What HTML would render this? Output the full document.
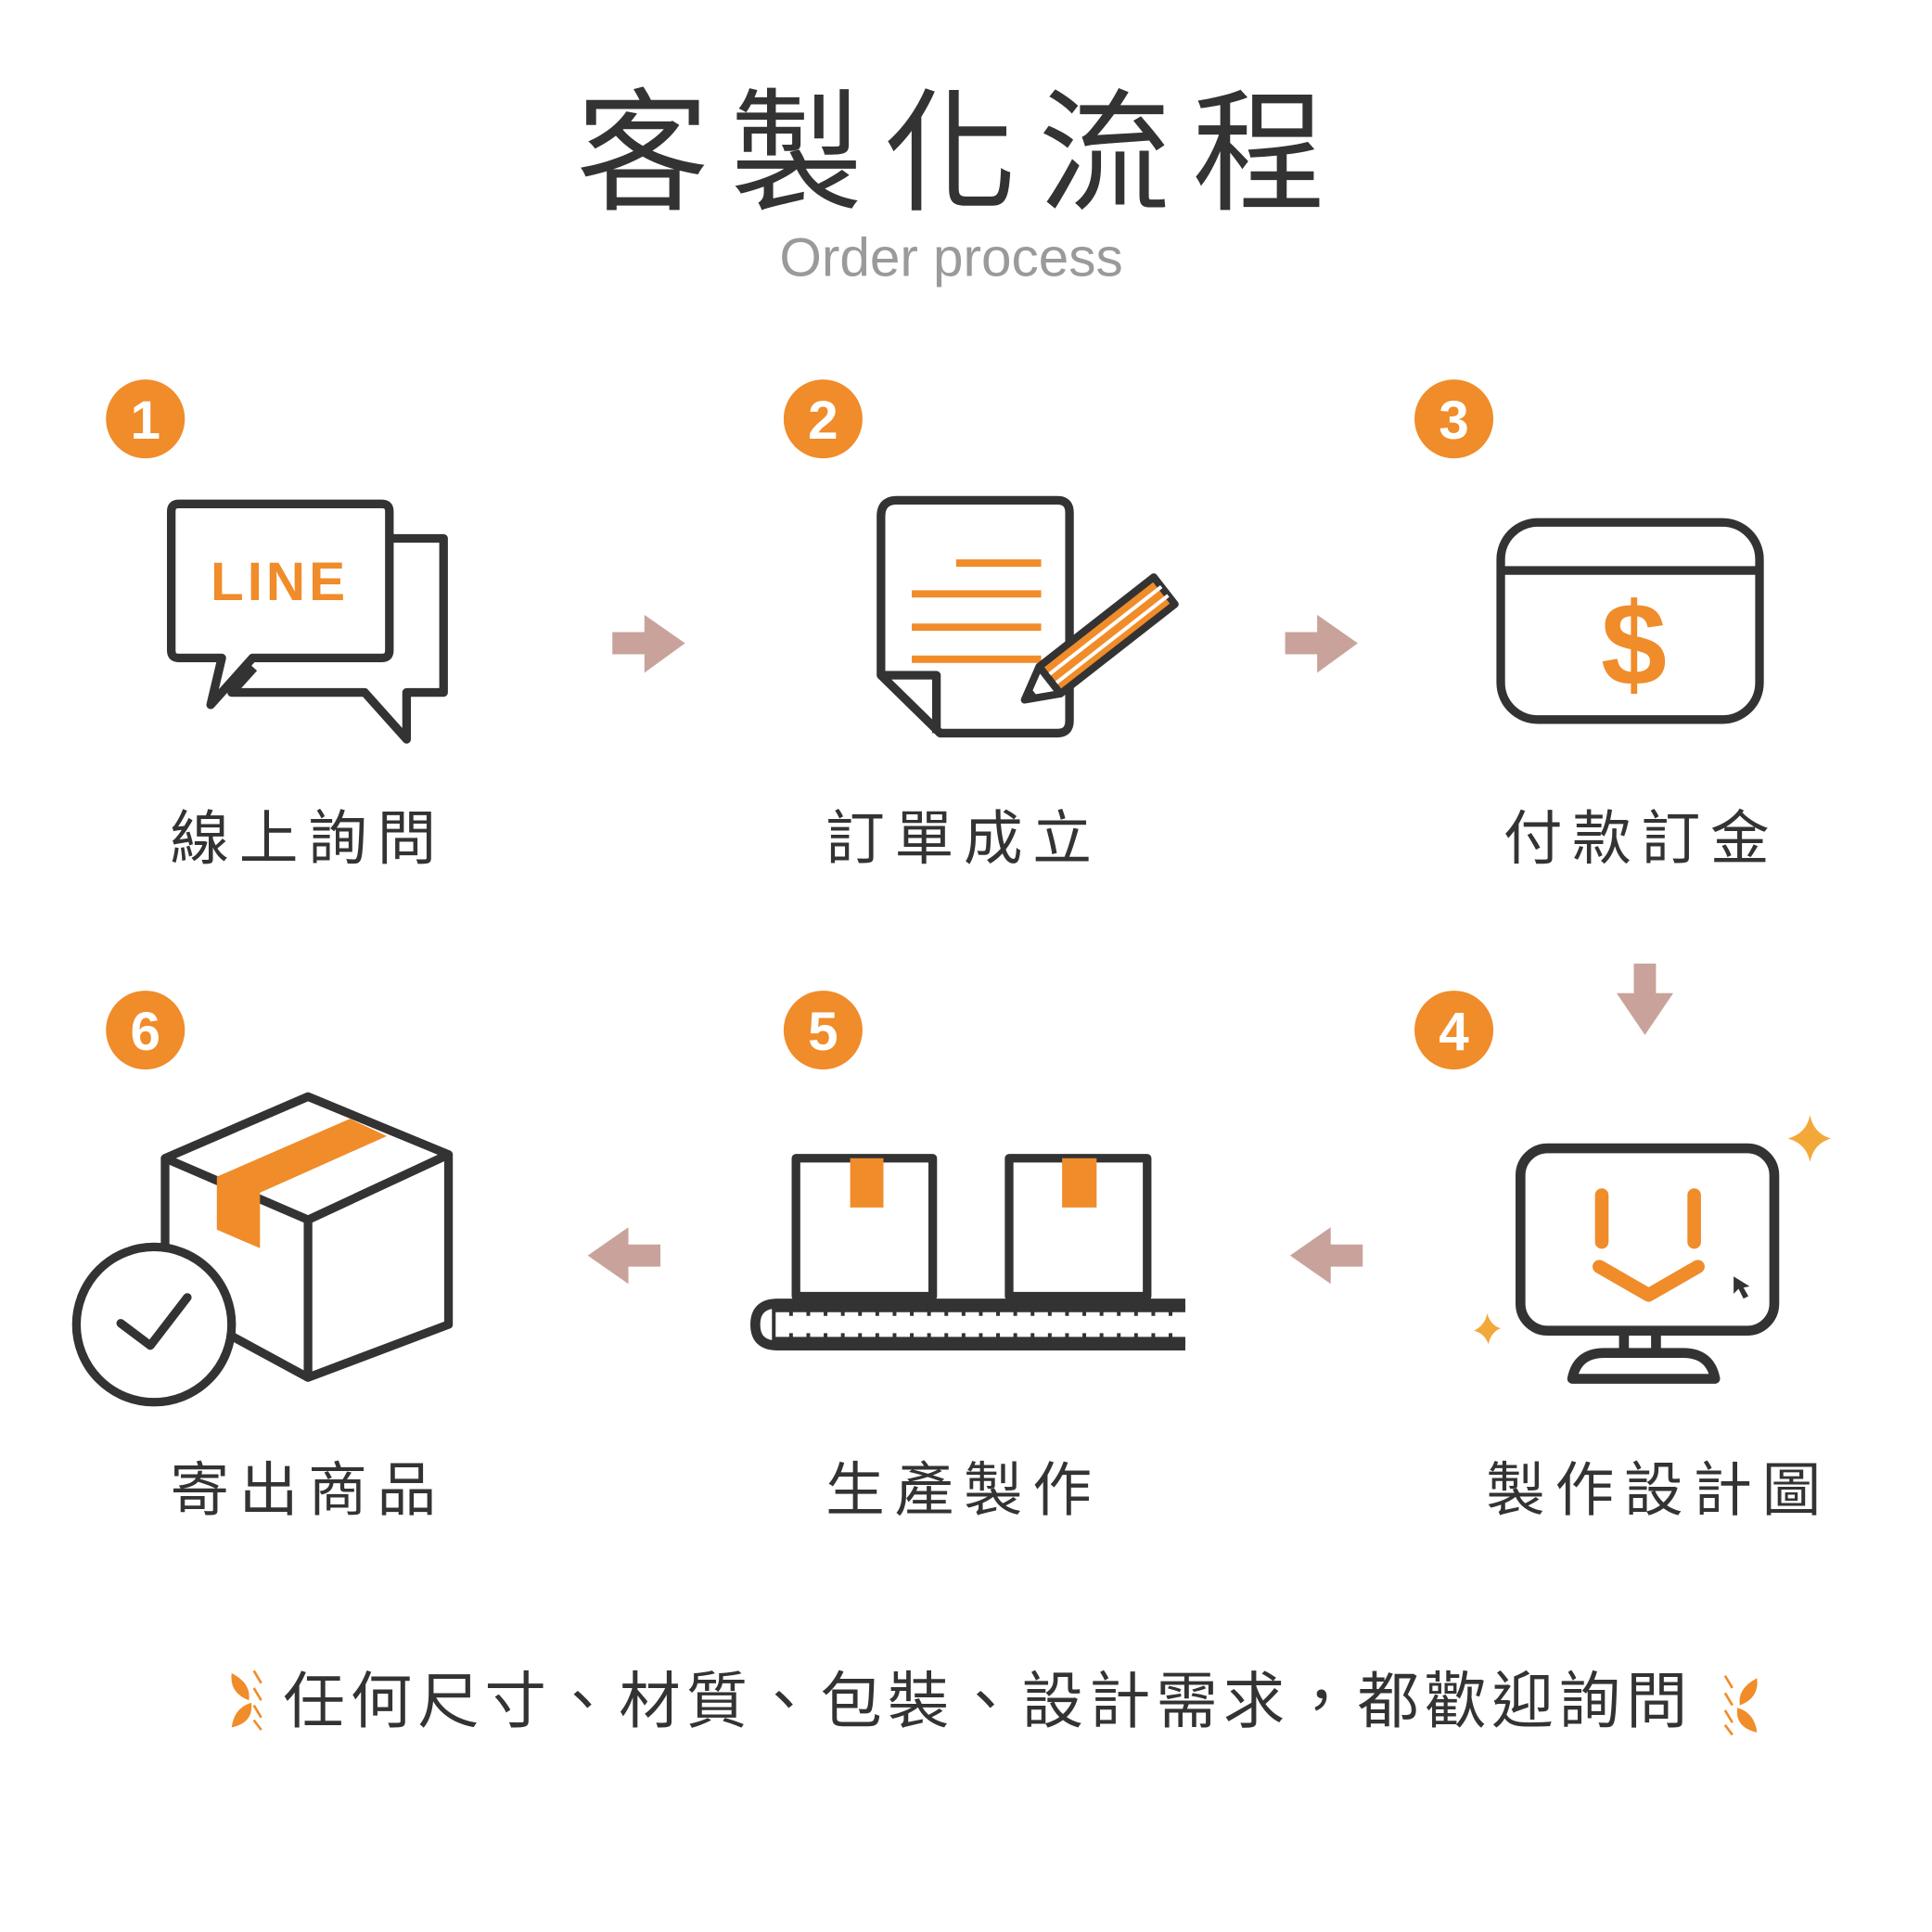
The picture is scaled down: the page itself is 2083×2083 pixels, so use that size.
<!DOCTYPE html>
<html><head><meta charset="utf-8"><style>
html,body{margin:0;padding:0;background:#fff;}
svg{display:block;}
text{font-family:"Liberation Sans","Noto Sans CJK TC",sans-serif;}
</style></head><body>
<svg width="2083" height="2083" viewBox="0 0 1568 1568" xmlns="http://www.w3.org/2000/svg">
<rect width="1568" height="1568" fill="#fff"/>
<text x="780" y="162" text-anchor="middle" font-size="108" letter-spacing="17" fill="#333" style="font-family:'Noto Sans CJK TC',sans-serif">客製化流程</text>
<text x="772" y="224" text-anchor="middle" font-size="44" fill="#9a9a9a">Order process</text>

<g fill="#f08c2a">
<circle cx="118" cy="340" r="32"/><circle cx="668" cy="340" r="32"/><circle cx="1180" cy="340" r="32"/>
<circle cx="118" cy="836" r="32"/><circle cx="668" cy="836" r="32"/><circle cx="1180" cy="836" r="32"/>
</g>
<g fill="#fff" font-size="44" font-weight="bold" text-anchor="middle">
<text x="118" y="356">1</text><text x="668" y="356">2</text><text x="1180" y="356">3</text>
<text x="118" y="852">6</text><text x="668" y="852">5</text><text x="1180" y="852">4</text>
</g>

<g font-size="48" fill="#333" text-anchor="middle" letter-spacing="8" style="font-family:'Noto Sans CJK TC',sans-serif">
<text x="250" y="697">線上詢問</text>
<text x="782" y="697">訂單成立</text>
<text x="1332" y="697">付款訂金</text>
<text x="250" y="1226">寄出商品</text>
<text x="782" y="1226">生產製作</text>
<text x="1346" y="1226">製作設計圖</text>
</g>

<g fill="#c9a39b">
<rect x="497" y="513" width="30" height="18"/><polygon points="523,499 556,522 523,546"/>
<rect x="1043" y="513" width="30" height="18"/><polygon points="1069,499 1102,522 1069,546"/>
<rect x="1326" y="782" width="18" height="28"/><polygon points="1312,806 1358,806 1335,840"/>
<rect x="506" y="1010" width="30" height="18"/><polygon points="510,996 477,1019 510,1042"/>
<rect x="1076" y="1010" width="30" height="18"/><polygon points="1080,996 1047,1019 1080,1042"/>
</g>

<g fill="none" stroke="#333" stroke-width="7" stroke-linejoin="round">
<path d="M316,437 H360 V562 H330 V600 L296,562 H188 L206,542"/>
<path d="M145,409 H310 Q316,409 316,415 V528 Q316,534 310,534 H205 L171,572 L180,534 H145 Q139,534 139,528 V415 Q139,409 145,409 Z" fill="#fff"/>
<path d="M728,406 H858 Q868,406 868,416 V585 Q868,595 858,595 H763 L715,548 V419 Q715,406 728,406 Z"/>
<path d="M715,548 H760 V595"/>
<rect x="1218" y="424" width="210" height="160" rx="30"/>
<line x1="1218" y1="463" x2="1428" y2="463"/>
<rect x="1234" y="932" width="206" height="148" rx="22" stroke-width="8"/>
<path d="M1318,1080 V1098 M1344,1080 V1098" stroke-width="8"/>
<path d="M1276,1119 Q1280,1098 1302,1098 H1366 Q1388,1098 1392,1119 Z" stroke-width="8"/>
<rect x="646" y="940" width="111" height="112"/>
<rect x="819" y="940" width="112" height="112"/>
<path d="M962,1058 H631 Q613,1058 613,1075 Q613,1092 631,1092 H962" stroke-width="8"/>
<path d="M628,1062 H962 M628,1088 H962" stroke-width="6"/>
<path d="M134,940 L250,890 L364,937 L250,990 Z"/>
<path d="M134,940 V1060 M250,990 V1118 L364,1075 V937"/>
<path d="M180,1080 L250,1118"/>
</g>
<g stroke="#333" stroke-width="3">
<path d="M628,1058 V1092 M642,1058V1068 M656,1058V1068 M670,1058V1068 M684,1058V1068 M698,1058V1068 M712,1058V1068 M726,1058V1068 M740,1058V1068 M754,1058V1068 M768,1058V1068 M782,1058V1068 M796,1058V1068 M810,1058V1068 M824,1058V1068 M838,1058V1068 M852,1058V1068 M866,1058V1068 M880,1058V1068 M894,1058V1068 M908,1058V1068 M922,1058V1068 M936,1058V1068 M950,1058V1068
M642,1082V1092 M656,1082V1092 M670,1082V1092 M684,1082V1092 M698,1082V1092 M712,1082V1092 M726,1082V1092 M740,1082V1092 M754,1082V1092 M768,1082V1092 M782,1082V1092 M796,1082V1092 M810,1082V1092 M824,1082V1092 M838,1082V1092 M852,1082V1092 M866,1082V1092 M880,1082V1092 M894,1082V1092 M908,1082V1092 M922,1082V1092 M936,1082V1092 M950,1082V1092"/>
</g>
<g fill="#f08c2a">
<rect x="690" y="940" width="27" height="40"/>
<rect x="862" y="940" width="28" height="40"/>
<polygon points="176,955 284,908 314,922 211,968 211,1013 176,998"/>
</g>
<text x="227" y="487" font-size="44" font-weight="bold" fill="#f08c2a" text-anchor="middle" letter-spacing="3">LINE</text>
<g stroke="#f08c2a" stroke-width="6">
<line x1="776" y1="457" x2="845" y2="457"/>
<line x1="740" y1="482" x2="845" y2="482"/>
<line x1="740" y1="509" x2="845" y2="509"/>
<line x1="740" y1="535" x2="845" y2="535"/>
</g>
<g transform="translate(852,552) rotate(-38)">
<rect x="0" y="-14" width="118" height="28" fill="#f08c2a" stroke="#333" stroke-width="6" stroke-linejoin="round"/>
<line x1="0" y1="-4" x2="118" y2="-4" stroke="#fff" stroke-width="3"/>
<line x1="0" y1="5" x2="118" y2="5" stroke="#fff" stroke-width="3"/>
<polygon points="0,-14 -26,0 0,14" fill="#fff" stroke="#333" stroke-width="6" stroke-linejoin="round"/>
<polygon points="-16,-5 -26,0 -16,5" fill="#333"/>
</g>
<text x="1326" y="556" font-size="96" font-weight="bold" fill="#f08c2a" text-anchor="middle">$</text>
<g stroke="#f08c2a" stroke-width="11" stroke-linecap="round" stroke-linejoin="round" fill="none">
<line x1="1300" y1="970" x2="1300" y2="1008"/>
<line x1="1375" y1="970" x2="1375" y2="1008"/>
<polyline points="1298,1028 1338,1051 1378,1028"/>
</g>
<polygon points="1407,1036 1407,1050 1411,1046 1415,1054 1419,1052 1415,1045 1420,1044" fill="#333"/>
<path d="M1469,905 Q1472,920 1486,924 Q1472,928 1469,943 Q1466,928 1451,924 Q1466,920 1469,905 Z" fill="#f3a93a"/>
<path d="M1207,1066 Q1210,1076 1218,1078 Q1210,1081 1208,1091 Q1205,1082 1196,1080 Q1205,1076 1207,1066 Z" fill="#f3a93a"/>
<circle cx="125" cy="1075" r="63" fill="#fff" stroke="#333" stroke-width="7"/>
<polyline points="98,1074 122,1092 152,1053" fill="none" stroke="#333" stroke-width="7" stroke-linejoin="round" stroke-linecap="round"/>

<g fill="#f08c2a">
<path d="M188,1358 Q204,1366 202,1380 Q186,1374 188,1358 Z"/>
<path d="M188,1402 Q190,1386 204,1382 Q206,1398 188,1402 Z"/>
<path d="M1426,1362 Q1410,1370 1412,1384 Q1428,1378 1426,1362 Z"/>
<path d="M1426,1406 Q1424,1390 1410,1386 Q1408,1402 1426,1406 Z"/>
</g>
<g stroke="#f08c2a" stroke-width="2" fill="none">
<path d="M206,1356 L212,1366 M206,1370 L212,1380 M206,1384 L212,1394 M206,1396 L212,1404"/>
<path d="M1400,1360 L1406,1370 M1400,1374 L1406,1384 M1400,1388 L1406,1398 M1400,1400 L1406,1408"/>
</g>
<text x="802" y="1398" text-anchor="middle" font-size="50" fill="#333" letter-spacing="4.5" style="font-family:'Noto Sans CJK TC',sans-serif">任何尺寸、材質、包裝、設計需求，都歡迎詢問</text>
</svg>
</body></html>
